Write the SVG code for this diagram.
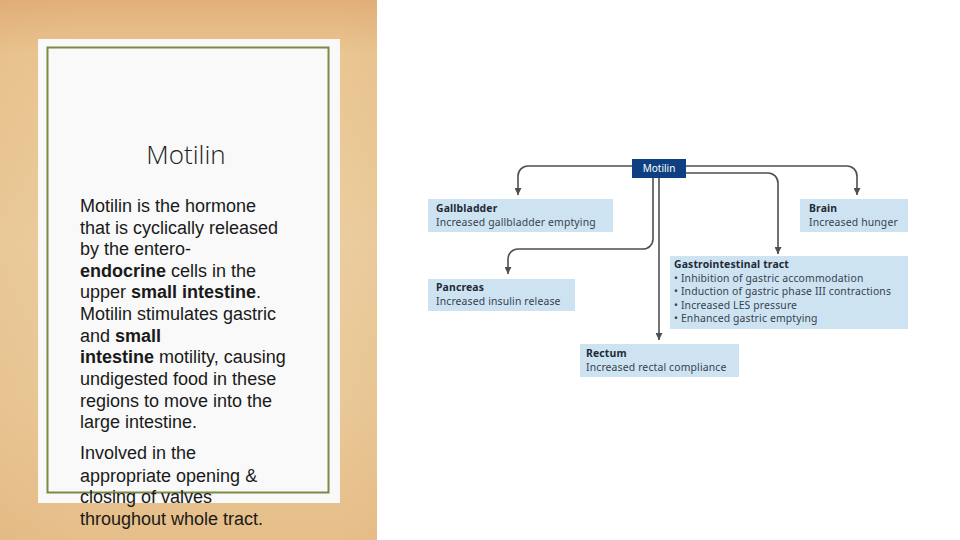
<svg xmlns="http://www.w3.org/2000/svg" width="960" height="540" viewBox="0 0 960 540">
<defs>
<linearGradient id="wood" x1="0" y1="0" x2="0" y2="1">
<stop offset="0" stop-color="#e2af7a"/>
<stop offset="0.1" stop-color="#e9c692"/>
<stop offset="0.45" stop-color="#ebcd9e"/>
<stop offset="0.75" stop-color="#e9c897"/>
<stop offset="1" stop-color="#e6be89"/>
</linearGradient>
<linearGradient id="woodH" x1="0" y1="0" x2="1" y2="0">
<stop offset="0" stop-color="#d89a5c" stop-opacity="0.1"/>
<stop offset="0.2" stop-color="#d89a5c" stop-opacity="0"/>
<stop offset="0.9" stop-color="#d89a5c" stop-opacity="0"/>
<stop offset="1" stop-color="#d89a5c" stop-opacity="0.06"/>
</linearGradient>
<marker id="arr" viewBox="0 0 10 10" refX="10" refY="5" markerWidth="7" markerHeight="7" markerUnits="userSpaceOnUse" orient="auto">
<path d="M0,0 L10,5 L0,10 z" fill="#4d4f52"/>
</marker>
<style>
.body{font-family:"Liberation Sans",Arial,sans-serif;font-size:18px;fill:#1a1a1a}
.b{font-weight:bold}
.box{fill:#cde3f1}
.t{font-family:"Noto Sans","Open Sans",sans-serif;font-size:10.4px;letter-spacing:0.15px;font-weight:bold;fill:#1e2a36}
.s{font-family:"Noto Sans","Open Sans",sans-serif;font-size:10.4px;letter-spacing:0.15px;fill:#34424f}
.conn{fill:none;stroke:#4d4f52;stroke-width:1.6}
</style>
</defs>
<rect x="0" y="0" width="960" height="540" fill="#ffffff"/>
<rect x="0" y="0" width="377" height="540" fill="url(#wood)"/>
<rect x="0" y="0" width="377" height="540" fill="url(#woodH)"/>
<g id="textcard">
<rect x="38" y="39" width="302" height="464" fill="#f9f9f9"/>
<rect x="47.5" y="47.5" width="281" height="445" fill="none" stroke="#7d8a45" stroke-width="2"/>
<text x="186" y="164" text-anchor="middle" style="font-family:'Open Sans','Liberation Sans',sans-serif;font-size:26px;font-weight:300;fill:#222">Motilin</text>
<text class="body">
<tspan x="80" y="212">Motilin is the hormone</tspan>
<tspan x="80" y="234">that is cyclically released</tspan>
<tspan x="80" y="255">by the entero-</tspan>
<tspan x="80" y="277"><tspan class="b">endocrine</tspan> cells in the</tspan>
<tspan x="80" y="298">upper <tspan class="b">small intestine</tspan>.</tspan>
<tspan x="80" y="320">Motilin stimulates gastric</tspan>
<tspan x="80" y="342">and <tspan class="b">small</tspan></tspan>
<tspan x="80" y="363"><tspan class="b">intestine</tspan> motility, causing</tspan>
<tspan x="80" y="385">undigested food in these</tspan>
<tspan x="80" y="407">regions to move into the</tspan>
<tspan x="80" y="428">large intestine.</tspan>
<tspan x="80" y="459">Involved in the</tspan>
<tspan x="80" y="482">appropriate opening &amp;</tspan>
<tspan x="80" y="503">closing of valves</tspan>
<tspan x="80" y="525">throughout whole tract.</tspan>
</text>
</g>
<g id="connectors">
<path class="conn" d="M632,166 H528 A10,10 0 0 0 518,176 V195" marker-end="url(#arr)"/>
<path class="conn" d="M686,166 H847 A10,10 0 0 1 857,176 V195" marker-end="url(#arr)"/>
<path class="conn" d="M686,173 H768 A10,10 0 0 1 778,183 V254" marker-end="url(#arr)"/>
<path class="conn" d="M653,178 V239 A10,10 0 0 1 643,249 H518 A10,10 0 0 0 508,259 V274" marker-end="url(#arr)"/>
<path class="conn" d="M659,178 V340" marker-end="url(#arr)"/>
</g>
<g id="motilin">
<rect x="632" y="159" width="54" height="19" fill="#0e3f80"/>
<text x="659" y="172" text-anchor="middle" style="font-family:'Noto Sans','Open Sans',sans-serif;font-size:10px;fill:#ffffff">Motilin</text>
</g>
<g id="gallbladder">
<rect class="box" x="428" y="199" width="185" height="33"/>
<text class="t" x="436" y="212">Gallbladder</text>
<text class="s" x="436" y="226">Increased gallbladder emptying</text>
</g>
<g id="brain">
<rect class="box" x="800" y="199" width="108" height="33"/>
<text class="t" x="809" y="212">Brain</text>
<text class="s" x="809" y="226">Increased hunger</text>
</g>
<g id="pancreas">
<rect class="box" x="428" y="279" width="147" height="32"/>
<text class="t" x="436" y="290.5">Pancreas</text>
<text class="s" x="436" y="304.5">Increased insulin release</text>
</g>
<g id="gi">
<rect class="box" x="670" y="256" width="238" height="73"/>
<text class="t" x="674" y="268">Gastrointestinal tract</text>
<text class="s" x="674" y="281.5">• Inhibition of gastric accommodation</text>
<text class="s" x="674" y="295">• Induction of gastric phase III contractions</text>
<text class="s" x="674" y="308.5">• Increased LES pressure</text>
<text class="s" x="674" y="322">• Enhanced gastric emptying</text>
</g>
<g id="rectum">
<rect class="box" x="580" y="344" width="159" height="33"/>
<text class="t" x="586" y="357">Rectum</text>
<text class="s" x="586" y="371">Increased rectal compliance</text>
</g>
</svg>
